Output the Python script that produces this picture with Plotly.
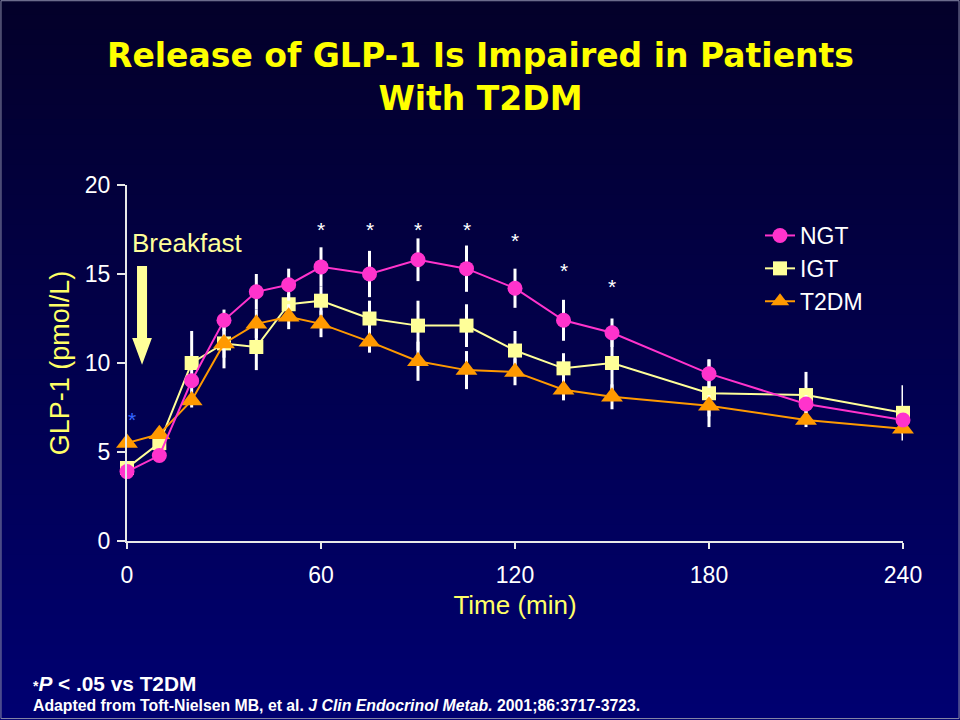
import plotly.graph_objects as go

# ---------------- data ----------------
time_min = [0, 10, 20, 30, 40, 50, 60, 75, 90, 105, 120, 135, 150, 180, 210, 240]

ngt = [3.9, 4.8, 9.0, 12.4, 14.0, 14.4, 15.4, 15.0, 15.8, 15.3, 14.2, 12.4, 11.7, 9.4, 7.7, 6.8]
igt = [4.1, 5.5, 10.0, 11.1, 10.9, 13.3, 13.5, 12.5, 12.1, 12.1, 10.7, 9.7, 10.0, 8.3, 8.2, 7.2]
t2dm = [5.5, 6.0, 7.9, 11.1, 12.2, 12.6, 12.2, 11.2, 10.1, 9.6, 9.5, 8.5, 8.1, 7.6, 6.8, 6.3]

ngt_err = [0.2, 0.2, 0.4, 0.6, 1.0, 0.9, 1.1, 1.3, 1.2, 1.3, 1.1, 1.15, 0.8, 0.8, 0.5, 0.4]
igt_err = [0.2, 0.3, 1.8, 1.4, 1.3, 0.6, 0.8, 1.0, 1.4, 1.2, 1.1, 0.85, 1.6, 1.9, 1.3, 1.55]
t2dm_err = [0.2, 0.2, 0.4, 0.8, 0.8, 0.7, 0.75, 0.62, 1.1, 1.07, 0.75, 0.6, 0.7, 0.6, 0.4, 0.3]

sig_times = [60, 75, 90, 105, 120, 135, 150]
sig_y = [17.5, 17.5, 17.5, 17.5, 16.9, 15.2, 14.3]

x_ticks = [0, 60, 120, 180, 240]
y_ticks = [0, 5, 10, 15, 20]

FONT = "Liberation Sans, Arial, sans-serif"

fig = go.Figure()

series = [
    ("IGT", igt, igt_err, "#FFFF99", "square", 14, 2),
    ("T2DM", t2dm, t2dm_err, "#FF9900", "triangle-up", 19, 3),
    ("NGT", ngt, ngt_err, "#FF33CC", "circle", 15, 1),
]
for name, vals, err, col, sym, size, rank in series:
    fig.add_trace(go.Scatter(
        x=time_min, y=vals, name=name, mode="lines+markers",
        line=dict(color=col, width=2),
        marker=dict(color=col, symbol=sym, size=size, line=dict(width=0)),
        error_y=dict(type="data", array=err, visible=True, color="white", thickness=3, width=0),
        legendrank=rank, cliponaxis=False,
    ))

# background gradient (decorative)
top = (3, 0, 42)
bot = (0, 0, 112)
nb = 48
shapes = []
for i in range(nb):
    f = i / (nb - 1)
    c = tuple(int(round(top[k] + (bot[k] - top[k]) * f)) for k in range(3))
    shapes.append(dict(type="rect", xref="paper", yref="paper", layer="below",
                       x0=0, x1=1, y0=1 - (i + 1) / nb, y1=min(1.0, 1 - i / nb + 0.001),
                       fillcolor="rgb(%d,%d,%d)" % c, line=dict(width=0)))
# slide border
shapes.append(dict(type="rect", xref="paper", yref="paper", x0=0.001, x1=0.999, y0=0.002, y1=0.999,
                   line=dict(color="#8a8aa8", width=1), fillcolor="rgba(0,0,0,0)", layer="above"))
# breakfast arrow
shapes.append(dict(type="path", xref="x", yref="y", layer="above",
                   path="M 3.1 15.45 L 6.2 15.45 L 6.2 11.4 L 7.7 11.4 L 4.65 9.9 L 1.6 11.4 L 3.1 11.4 Z",
                   fillcolor="#FFFF99", line=dict(width=0)))

annotations = []
for t, yv in zip(sig_times, sig_y):
    annotations.append(dict(x=t, y=yv, xref="x", yref="y", text="*", showarrow=False,
                            font=dict(family=FONT, size=21, color="white")))
annotations.append(dict(x=1.6, y=6.8, xref="x", yref="y", text="*", showarrow=False,
                        font=dict(family=FONT, size=21, color="#3366FF")))
annotations.append(dict(x=0.8, y=16.75, xref="x", yref="y", text="Breakfast", showarrow=False,
                        xanchor="left", yanchor="middle", font=dict(family=FONT, size=26, color="#FFFF99")))
annotations.append(dict(x=0.5, y=1 - 77 / 720, xref="paper", yref="paper", showarrow=False,
                        xanchor="center", yanchor="middle",
                        text="<b>Release of GLP-1 Is Impaired in Patients<br>With T2DM</b>",
                        font=dict(family="DejaVu Sans, Verdana, sans-serif", size=33, color="#FFFF00")))
annotations.append(dict(x=31 / 960, y=1 - 683 / 720, xref="paper", yref="paper", showarrow=False,
                        xanchor="left", yanchor="middle",
                        text="<b><span style='font-size:14px'>*</span><i>P</i> &lt; .05 vs T2DM</b>",
                        font=dict(family="Liberation Sans Narrow, Arial Narrow, Liberation Sans, sans-serif", size=20.8, color="white")))
annotations.append(dict(x=31 / 960, y=1 - 705 / 720, xref="paper", yref="paper", showarrow=False,
                        xanchor="left", yanchor="middle",
                        text="<b>Adapted from Toft-Nielsen MB, et al. <i>J Clin Endocrinol Metab.</i> 2001;86:3717-3723.</b>",
                        font=dict(family="Liberation Sans Narrow, Arial Narrow, Liberation Sans, sans-serif", size=15.8, color="white")))

fig.update_layout(
    width=960, height=720, autosize=False,
    margin=dict(l=0, r=0, t=0, b=0, pad=0, autoexpand=False),
    paper_bgcolor="#00004f", plot_bgcolor="rgba(0,0,0,0)",
    font=dict(family=FONT, color="white"),
    shapes=shapes, annotations=annotations,
    showlegend=True,
    legend=dict(x=760 / 960, y=1 - 214 / 720, xanchor="left", yanchor="top",
                bgcolor="rgba(0,0,0,0)", font=dict(family=FONT, size=23, color="white"),
                itemsizing="trace"),
    xaxis=dict(domain=[127 / 960, 903 / 960], range=[0, 240], tickvals=x_ticks, automargin=False,
               showgrid=False, zeroline=False, showline=True, linecolor="#e8e8e8", linewidth=2,
               ticks="outside", ticklen=6, tickcolor="#e8e8e8", tickwidth=2, ticklabelstandoff=6,
               tickfont=dict(family=FONT, size=23, color="white"),
               title=dict(text="Time (min)", font=dict(family=FONT, size=26, color="#FFFF66"), standoff=9)),
    yaxis=dict(domain=[1 - 541 / 720, 1 - 185 / 720], range=[0, 20], tickvals=y_ticks, automargin=False,
               showgrid=False, zeroline=False, showline=True, linecolor="#e8e8e8", linewidth=2,
               ticks="outside", ticklen=8, tickcolor="#e8e8e8", tickwidth=2, ticklabelstandoff=2,
               tickfont=dict(family=FONT, size=23, color="white"),
               title=dict(text="GLP-1 (pmol/L)", font=dict(family=FONT, size=27, color="#FFFF66"), standoff=7)),
)

fig.write_html("out.html")
